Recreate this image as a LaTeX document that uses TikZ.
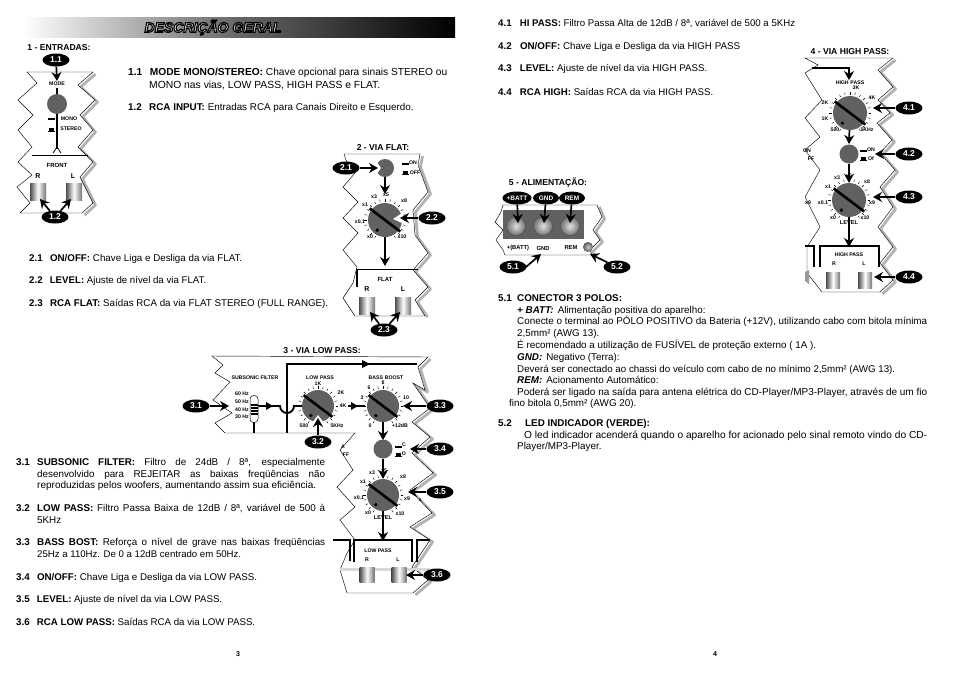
\documentclass[tikz,border=0pt]{standalone}
\usepackage{fontspec}
\usepackage{graphicx}
\setmainfont{Liberation Sans}
\usetikzlibrary{arrows.meta,shapes.geometric,calc}
\newcommand\fs[1]{\fontsize{#1}{#1}\selectfont}
\newcounter{nn}
\tikzset{
  x=1pt,y=-1pt,
  panelline/.style={draw=black,line width=0.45pt,fill=white},
  panelshadow/.style={draw=black!30,line width=2.8pt,line join=round,xshift=2.5pt,yshift=-2pt},
  wire/.style={line width=1.9pt,draw=black},
  arr/.style={line width=1.7pt,draw=black,-{Stealth[length=9pt,width=10pt,inset=3pt]}},
  bad/.style={ellipse,fill=black,text=white,minimum width=27pt,minimum height=13pt,inner sep=0pt,font=\fs{8.5}\bfseries},
  knobst/.style={circle,fill=black!62,inner sep=0pt},
  tick/.style={line width=0.4pt,draw=black},
  lbl/.style={inner sep=0pt,font=\fs{5.2}\bfseries},
  head/.style={inner sep=0pt,anchor=base,font=\fs{8.6}\bfseries},
  body/.style={inner sep=0pt,anchor=base west,font=\fs{9.85}},
  jackst/.style={rectangle,inner sep=0pt,left color=black!70,right color=black!55,middle color=white},
}
\newcommand\lab[3]{\stepcounter{nn}\node[lbl] (l\arabic{nn}) at (#1,#2) {#3};}
\newcommand\hd[3]{\stepcounter{nn}\node[head] (l\arabic{nn}) at (#1,#2) {#3};}
\newcommand\tx[3]{\stepcounter{nn}\node[body] (l\arabic{nn}) at (#1,#2) {#3};}
\newcommand\jx[4]{\stepcounter{nn}\node[body] (l\arabic{nn}) at (#1,#2) {\makebox[#3pt][s]{#4}};}
\newcommand\wx[4]{\stepcounter{nn}\node[body] (l\arabic{nn}) at (#1,#2) {\resizebox{#3pt}{!}{#4}};}
\newcommand\nr[2][21]{\makebox[#1pt][l]{\textbf{#2}}}
\newcommand\badge[4]{\node[bad] (#1) at (#2,#3) {#4};}
\newcommand\ptr[3]{\coordinate (#1-#2-#3) at (#2,#3);\draw[arr] (#1) -- (#1-#2-#3);}
\newcommand\knob[4]{%
  \foreach \a in {120,135,...,420}{\draw[tick] ($(#2,#3)+(\a:#4+1.5)$) -- ($(#2,#3)+(\a:#4+4)$);}
  \node[knobst,minimum size=#4*2pt] (#1) at (#2,#3) {};
  \pgfmathsetmacro\dx{#4*0.9}\pgfmathsetmacro\dy{#4*0.68}
  \draw[line width=2.6pt] ($(#1)+(-\dx,-\dy)$) -- ($(#1)+(\dx,\dy)$);
  \pgfmathsetmacro\ddx{#4*0.45}\pgfmathsetmacro\ddy{#4*0.6}
  \fill ($(#1)+(-\ddx,\ddy)$) circle (1.9pt);
}
\newcommand\sw[2]{\fill (#1-3.5,#2+1.5) rectangle (#1+3.5,#2+0.5); \fill (#1-2.5,#2+1) rectangle (#1+2.5,#2-2.5);}
\newcommand\swa[2]{\fill (#1-3.5,#2+1.5) rectangle (#1+3.5,#2);}
\newcommand\jack[5]{\node[jackst,minimum width=#4pt,minimum height=#5pt] (#1) at (#2,#3) {};}
\begin{document}
\begin{tikzpicture}
\useasboundingbox (0,0) rectangle (954,675);
\fill[white] (0,0) rectangle (954,675);

% header
\shade[left color=white,right color=black,middle color=black!60] (23,17) rectangle (455,37);
\node[inner sep=0pt,text=white,font=\fs{14}\bfseries\itshape] (title) at (213,27.5) {\special{pdf:code 2 Tr 1.1 w 0 G}DESCRIÇÃO GERAL\special{pdf:code 0 Tr}};

% ---------- panel 1
\draw[panelshadow] plot coordinates {(93,72)(78,85)(95,100)(80,115)(93,130)(78,147)(93,162)(80,177)(93,203)(82,213)};
\draw[panelline] plot coordinates {(27,72)(37,83)(18,100)(33,115)(18,130)(32,147)(18,162)(32,175)(17,187)(30,203)(20,213)(82,213)(93,203)(80,177)(93,162)(78,147)(93,130)(80,115)(95,100)(78,85)(93,72)} -- cycle;
\hd{59}{50}{1 - ENTRADAS:}
\lab{57}{84}{MODE}
\draw[wire] (57,88) -- (57,94);
\draw[wire] (57,112) -- (57,149);
\draw[line width=0.8pt] (53,153) -- (57,147) -- (61,153);
\draw[wire] (32,155.5) -- (88,155.5);
\node[knobst,minimum size=20pt] (k1) at (57,104) {};
\swa{51}{118} \sw{51}{130}
\lab{69}{119}{MONO}
\lab{71}{129}{STEREO}
\lab{57}{165}{\fs{6}FRONT}
\lab{38}{176}{\fs{7}R}
\lab{73}{176}{\fs{7}L}
\jack{j11}{38}{192}{16}{17}
\jack{j12}{74}{192}{16}{17}
\badge{b11}{56}{60}{1.1}
\ptr{b11}{57}{81}
\badge{b12}{55}{217}{1.2}
\ptr{b12}{40}{199}
\ptr{b12}{71}{199}

\wx{128}{75}{319}{\nr{1.1}\textbf{MODE MONO/STEREO:} Chave opcional para sinais STEREO ou}
\wx{149}{88}{231}{MONO nas vias, LOW PASS, HIGH PASS e FLAT.}
\tx{128}{110}{\nr{1.2}\textbf{RCA INPUT:} Entradas RCA para Canais Direito e Esquerdo.}

% ---------- panel 2
\draw[panelshadow] plot coordinates {(420,154)(418,165)(428,192)(413,210)(415,235)(428,253)(413,270)(428,287)(415,300)(425,315)};
\draw[panelline] plot coordinates {(344,154)(346,160)(355,173)(343,187)(358,202)(343,218)(358,233)(343,250)(357,267)(353,283)(343,298)(355,316)(425,316)(415,300)(428,287)(413,270)(428,253)(415,235)(413,210)(428,192)(418,165)(420,154)} -- cycle;
\hd{383}{150}{2 - VIA FLAT:}
\draw[wire] (357,285) -- (357,269.5) -- (418,269.5);
\fill (357,286) circle (1.4pt);
\knob{k21}{385}{220}{17}
\node[knobst,minimum size=18pt] (k22) at (385,168) {};
\swa{405}{163} \sw{405}{173}
\lab{413}{163}{ON}
\lab{415}{173}{OFF}
\coordinate (k22in) at (385,194);
\draw[arr] (k22) -- (k22in);
\coordinate (fin) at (385,266);
\draw[arr] (k21) -- (fin);
\lab{374}{197}{x3}\lab{386}{195}{x5}\lab{404}{201}{x8}\lab{365}{205}{x1}\lab{360}{222}{x0.1}\lab{370}{237}{x0}\lab{402}{237}{x10}
\lab{385}{279}{\fs{6}FLAT}
\lab{367}{289}{\fs{7}R}
\lab{403}{289}{\fs{7}L}
\jack{j21}{367}{306}{16}{17}
\jack{j22}{403}{306}{16}{17}
\fill[white] (402,213) -- (402,223) -- (393,219) -- cycle;
\fill[white] (376,161) -- (376,175) -- (381,168) -- cycle;
\badge{b21}{346}{168}{2.1}
\ptr{b21}{378}{168}
\badge{b22}{432}{218}{2.2}
\ptr{b22}{400}{218}
\badge{b23}{384}{330}{2.3}
\ptr{b23}{370}{312}
\ptr{b23}{400}{312}

\wx{29}{261}{213}{\nr{2.1}\textbf{ON/OFF:} Chave Liga e Desliga da via FLAT.}
\wx{29}{283}{177}{\nr{2.2}\textbf{LEVEL:} Ajuste de nível da via FLAT.}
\wx{29}{306}{299}{\nr{2.3}\textbf{RCA FLAT:} Saídas RCA da via FLAT STEREO (FULL RANGE).}

% ---------- panel 3
\draw[panelshadow] plot coordinates {(428,357)(418,367)(425,390)(413,383)(430,408)(412,422)(430,437)(412,453)(433,473)(410,490)(432,513)(410,527)(430,540)(412,567)(428,580)(413,593)};
\draw[panelline] plot coordinates {(212,356)(223,365)(215,373)(230,382)(213,400)(232,413)(215,423)(225,433)(355,433)(340,450)(353,470)(337,487)(355,507)(340,520)(355,540)(347,553)(340,570)(347,593)(413,593)(428,580)(412,567)(430,540)(410,527)(432,513)(410,490)(433,473)(412,453)(430,437)(412,422)(430,408)(413,383)(425,390)(418,367)(428,357)} -- cycle;
\fill[black!15] (340,568) rectangle (430,571);
\hd{322}{353}{3 - VIA LOW PASS:}
\draw[wire] (287,433) -- (287,364) -- (417,364);
\fill (362,360) -- (370,364) -- (362,368) -- cycle;
\draw[wire] (254,422) -- (254,433);
\draw[wire] (258,406) -- (280,406) arc (180:0:7) -- (305,406);
\fill (266,402) -- (273,406) -- (266,410) -- cycle;
\draw[wire] (348,406) -- (365,406);
\fill (351,402) -- (358,406) -- (351,410) -- cycle;
\lab{255}{377.5}{SUBSONIC FILTER}
\lab{242}{394}{60 Hz}\lab{242}{402}{50 Hz}\lab{242}{410}{40 Hz}\lab{242}{417}{30 Hz}
\node[rectangle,rounded corners=3.5pt,draw=black,line width=0.5pt,fill=white,minimum width=8pt,minimum height=27pt,inner sep=0pt] (sl) at (254,409) {};
\foreach \yy in {405,408,411,414}{\draw[line width=1.1pt] (250.5,\yy) -- (257.5,\yy);}
\knob{k31}{318}{406}{16}
\knob{k32}{383}{406}{16}
\lab{320}{378}{LOW\,\,PASS}
\lab{318}{384}{1K}\lab{341}{393}{2K}\lab{343}{406}{4K}\lab{337}{426}{5KHz}\lab{304}{426}{500}
\lab{386}{378}{BASS\,\,BOOST}
\lab{383}{383}{8}\lab{369}{388}{6}\lab{362}{398}{3}\lab{406}{398}{10}\lab{370}{426}{0}\lab{400}{426}{+12dB}
\node[knobst,minimum size=19pt] (k33) at (383,449) {};
\coordinate (k33in) at (383,440);
\draw[arr] (k32) -- (k33in);
\swa{398}{446}\sw{398}{455}
\lab{404}{445}{C}\lab{404}{454}{O}
\knob{k34}{383}{495}{16}
\draw[arr] (k33) -- (k34);
\lab{372}{473}{x3}\lab{384}{471}{x5}\lab{403}{477}{x8}\lab{363}{482}{x1}\lab{359}{498}{x0.1}\lab{407}{499}{x9}\lab{368}{513}{x0}\lab{400}{514}{x10}
\lab{383}{518}{\fs{5.6}LEVEL}
\lab{343}{447}{A}\lab{346}{455}{FF}\lab{420}{500}{x}
\draw[wire] (333,540) -- (350,540) -- (350,559);
\fill (350,560) circle (1.3pt);
\draw[wire] (354,562) -- (354,540) -- (412,540) -- (412,562);
\draw[wire] (417,562) -- (417,540) -- (430,540);
\coordinate (k34o) at (383,541);
\draw[arr] (k34) -- (k34o);
\lab{378}{551}{LOW PASS}
\lab{367}{560}{R}\lab{398}{560}{L}
\jack{j31}{367}{575}{15}{15}
\jack{j32}{399}{575}{15}{15}
\fill[white] (312,423) -- (324,423) -- (318,415) -- cycle;
\badge{b31}{196}{406}{3.1}
\ptr{b31}{229}{406}
\badge{b32}{318}{442}{3.2}
\ptr{b32}{318}{418}
\badge{b33}{440}{406}{3.3}
\ptr{b33}{403}{406}
\badge{b34}{440}{449}{3.4}
\ptr{b34}{410}{449}
\badge{b35}{440}{492}{3.5}
\ptr{b35}{408}{492}
\badge{b36}{437}{575}{3.6}
\ptr{b36}{406}{575}

\jx{16}{465}{309}{\nr{3.1}\textbf{SUBSONIC FILTER:} Filtro de 24dB / 8ª, especialmente}
\jx{37}{477}{288}{desenvolvido para REJEITAR as baixas freqüências não}
\wx{37}{488}{279}{reproduzidas pelos woofers, aumentando assim sua eficiência.}
\jx{16}{511}{309}{\nr{3.2}\textbf{LOW PASS:} Filtro Passa Baixa de 12dB / 8ª, variável de 500 à}
\tx{37}{523}{5KHz}
\jx{16}{545}{309}{\nr{3.3}\textbf{BASS BOST:} Reforça o nível de grave nas baixas freqüências}
\wx{37}{557}{204}{25Hz a 110Hz. De 0 a 12dB centrado em 50Hz.}
\wx{16}{580}{241}{\nr{3.4}\textbf{ON/OFF:} Chave Liga e Desliga da via LOW PASS.}
\wx{16}{602}{206}{\nr{3.5}\textbf{LEVEL:} Ajuste de nível da via LOW PASS.}
\wx{16}{625}{239}{\nr{3.6}\textbf{RCA LOW PASS:} Saídas RCA da via LOW PASS.}
\node[inner sep=0pt,font=\fs{7}\bfseries] (p3) at (238,654) {3};

% ---------- right page text
\wx{498}{26}{297}{\nr[22]{4.1}\textbf{HI PASS:} Filtro Passa Alta de 12dB / 8ª, variável de 500 a 5KHz}
\wx{498}{49}{242}{\nr[22]{4.2}\textbf{ON/OFF:} Chave Liga e Desliga da via HIGH PASS}
\wx{498}{71}{209}{\nr[22]{4.3}\textbf{LEVEL:} Ajuste de nível da via HIGH PASS.}
\wx{498}{95}{215}{\nr[22]{4.4}\textbf{RCA HIGH:} Saídas RCA da via HIGH PASS.}

% ---------- panel 4
\draw[panelshadow] plot coordinates {(893,58)(878,70)(893,87)(878,100)(890,113)(877,123)(892,140)(880,153)(895,170)(880,187)(893,207)(878,227)(893,247)(880,263)(893,280)(880,292)};
\draw[panelline] plot coordinates {(805,58)(818,65)(805,73)(822,100)(805,118)(820,137)(805,150)(820,170)(805,197)(820,227)(807,247)(807,273)(822,292)(880,292)(893,280)(880,263)(893,247)(878,227)(893,207)(880,187)(895,170)(880,153)(892,140)(877,123)(890,113)(878,100)(893,87)(878,70)(893,58)} -- cycle;
\hd{850}{54}{4 - VIA HIGH PASS:}
\coordinate (h0) at (812,68);
\coordinate (h1) at (849,80);
\draw[arr] (h0) -| (h1);
\lab{850}{82.5}{HIGH\,\,PASS}
\lab{856}{88}{3K}\lab{825}{103}{2K}\lab{872}{98}{4K}\lab{825}{119}{1K}\lab{835}{130}{500}\lab{867}{130}{5KHz}
\knob{k41}{850}{113}{17}
\node[knobst,minimum size=19pt] (k42) at (849,154) {};
\coordinate (k42in) at (849,144);
\draw[arr] (k41) -- (k42in);
\swa{863}{150}\sw{863}{159}
\lab{871}{150}{ON}\lab{871}{159}{Of}
\lab{807}{151}{ON}\lab{811}{159}{FF}\lab{808}{203}{x9}
\knob{k43}{849}{200}{17}
\draw[arr] (k42) -- (k43);
\lab{837}{178}{x3}\lab{849}{176}{x5}\lab{867}{182}{x8}\lab{828}{187}{x1}\lab{823}{203}{x0.1}\lab{872}{203}{x9}\lab{833}{218}{x0}\lab{865}{218}{x10}
\lab{849}{223}{\fs{5.6}LEVEL}
\draw[wire] (805,246) -- (814,246) -- (814,267);
\draw[wire] (820,267) -- (820,246) -- (879,246) -- (879,267);
\coordinate (k43o) at (849,247);
\draw[arr] (k43) -- (k43o);
\lab{849}{255}{HIGH PASS}
\lab{834}{264}{R}\lab{864}{264}{L}
\jack{j41}{833}{280}{14}{16}
\jack{j42}{865}{280}{14}{16}
\fill[black!40] (805,272) -- (809,270) -- (809,284) -- (805,281) -- cycle;
\badge{b41}{909}{108}{4.1}
\ptr{b41}{873}{108}
\badge{b42}{909}{154}{4.2}
\ptr{b42}{875}{154}
\badge{b43}{909}{197}{4.3}
\ptr{b43}{873}{197}
\badge{b44}{909}{277}{4.4}
\ptr{b44}{874}{277}

% ---------- panel 5
\hd{548}{185}{5 - ALIMENTAÇÃO:}
\draw[panelshadow] plot coordinates {(597,205)(602,217)(593,230)(600,240)(590,250)(592,255)};
\draw[panelline] plot coordinates {(503,205)(501,212)(495,222)(503,230)(496,240)(503,250)(505,255)(592,255)(590,250)(600,240)(593,230)(602,217)(597,205)} -- cycle;
\foreach \nm/\xx in {a/516,b/543,c/570}{
  \node[rectangle,fill=black!62,minimum width=27pt,minimum height=29pt,inner sep=0pt] (t\nm) at (\xx,224) {};
  \node[circle,inner color=black!12,outer color=black!55,draw=black!70,minimum size=19pt,inner sep=0pt] (s\nm) at (\xx,226) {};
}
\lab{518}{248}{\fs{5.8}+(BATT)}
\lab{543}{248}{\fs{5.8}GND}
\lab{571}{248}{\fs{5.8}REM}
\node[circle,inner color=black!20,outer color=black!65,minimum size=10pt,inner sep=0pt] (led) at (588,247) {};
\node[bad,minimum width=26pt,font=\fs{6.5}\bfseries] (bb1) at (517,198) {+BATT};
\node[bad,minimum width=26pt,font=\fs{6.5}\bfseries] (bb2) at (546,198) {GND};
\node[bad,minimum width=26pt,font=\fs{6.5}\bfseries] (bb3) at (572,198) {REM};
\ptr{bb1}{518}{223}
\ptr{bb2}{544}{223}
\ptr{bb3}{570}{223}
\badge{b51}{513}{267}{5.1}
\coordinate (b51e) at (526,267);
\coordinate (b51t) at (541,254);
\draw[arr] (b51e) -- (b51t);
\badge{b52}{617}{267}{5.2}
\ptr{b52}{590}{254}

\tx{498}{301}{\nr[19]{5.1}\textbf{CONECTOR 3 POLOS:}}
\tx{517}{313}{\textbf{\itshape + BATT:}\hspace{4pt}Alimentação positiva do aparelho:}
\wx{517}{324}{410}{Conecte o terminal ao PÓLO POSITIVO da Bateria (+12V), utilizando cabo com bitola mínima}
\tx{517}{336}{2,5mm² (AWG 13).}
\tx{517}{348}{É recomendado a utilização de FUSÍVEL de proteção externo ( 1A ).}
\tx{517}{360}{\textbf{\itshape GND:}\hspace{4pt}Negativo (Terra):}
\wx{517}{372}{378}{Deverá ser conectado ao chassi do veículo com cabo de no mínimo 2,5mm² (AWG 13).}
\tx{517}{383}{\textbf{\itshape REM:}\hspace{4pt}Acionamento Automático:}
\wx{517}{395}{410}{Poderá ser ligado na saída para antena elétrica do CD-Player/MP3-Player, através de um fio}
\tx{509}{406}{fino bitola 0,5mm² (AWG 20).}
\tx{498}{426}{\nr[27]{5.2}\textbf{LED INDICADOR (VERDE):}}
\wx{524}{438}{403}{O led indicador acenderá quando o aparelho for acionado pelo sinal remoto vindo do CD-}
\tx{517}{449}{Player/MP3-Player.}
\node[inner sep=0pt,font=\fs{7}\bfseries] (p4) at (715,654) {4};
\end{tikzpicture}
\end{document}
